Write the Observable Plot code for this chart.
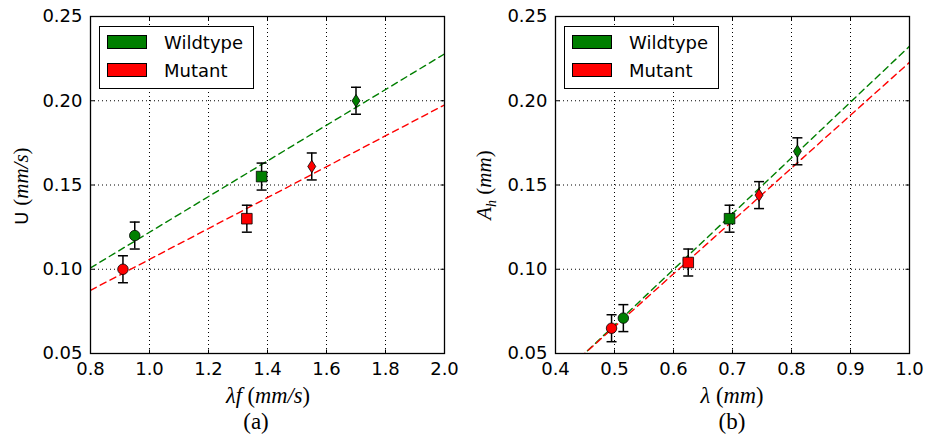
<!DOCTYPE html>
<html>
<head>
<meta charset="utf-8">
<script src="https://cdn.jsdelivr.net/npm/d3@7"></script>
<script src="https://cdn.jsdelivr.net/npm/@observablehq/plot@0.6"></script>
<style>
  body { margin: 0; background: white; }
  #wrap { position: relative; width: 925px; height: 439px; background: white; overflow: hidden; }
  .panel { position: absolute; top: 0; }
  .lab { position: absolute; transform: translate(-50%, -50%); white-space: nowrap; color: black; }
  .ylab { transform: translate(-50%, -50%) rotate(-90deg); }
  .serif { font-family: "Liberation Serif", "DejaVu Serif", serif; }
  .sans { font-family: "DejaVu Sans", sans-serif; }
  .legend { position: absolute; border: 1.5px solid black; background: white; box-sizing: border-box; font-family: "DejaVu Sans", sans-serif; font-size: 18px; }
  .item { position: absolute; left: 7px; height: 14px; display: flex; align-items: center; }
  .patch { width: 38px; height: 12px; border: 1px solid black; margin-right: 17px; }
</style>
</head>
<body>
<div id="wrap"></div>
<script>
// ---------- data ----------
const series = ["Wildtype", "Mutant"];
const seriesColors = ["#007f00", "#ff0000"];
const shapes = ["circle", "square", "diamond"];

// panel (a): U vs lambda*f
const aWildX = [0.95, 1.38, 1.70];
const aWildY = [0.120, 0.155, 0.200];
const aMutX  = [0.91, 1.33, 1.55];
const aMutY  = [0.100, 0.130, 0.161];
const aErr   = [0.008, 0.008, 0.008];
const aFitX     = [0.8, 2.0];
const aWildFitY = [0.1008, 0.2278];
const aMutFitY  = [0.0875, 0.1975];

// panel (b): A_h vs lambda
const bWildX = [0.515, 0.695, 0.810];
const bWildY = [0.071, 0.130, 0.170];
const bMutX  = [0.495, 0.625, 0.745];
const bMutY  = [0.065, 0.104, 0.144];
const bErr   = [0.008, 0.008, 0.008];
const bFitX     = [0.40, 1.0];
const bWildFitY = [0.0337, 0.2323];
const bMutFitY  = [0.0345, 0.2228];

const aXTicks = [0.8, 1.0, 1.2, 1.4, 1.6, 1.8, 2.0];
const bXTicks = [0.4, 0.5, 0.6, 0.7, 0.8, 0.9, 1.0];
const yTicks  = [0.05, 0.10, 0.15, 0.20, 0.25];

// ---------- custom symbols ----------
const symCircle  = { draw(c, size) { const r = Math.sqrt(size / Math.PI) * 1.05; c.moveTo(r, 0); c.arc(0, 0, r, 0, 2 * Math.PI); } };
const symSquare  = { draw(c, size) { const r = Math.sqrt(size / Math.PI) * 1.06; c.rect(-r, -r, 2 * r, 2 * r); } };
const symDiamond = { draw(c, size) { const r = Math.sqrt(size / Math.PI); const h = r * 1.25, w = r * 0.8; c.moveTo(0, -h); c.lineTo(w, 0); c.lineTo(0, h); c.lineTo(-w, 0); c.closePath(); } };
const symCap     = { draw(c, size) { const r = Math.sqrt(size / Math.PI); c.moveTo(-r, 0); c.lineTo(r, 0); } };
const tickUp    = { draw(c) { c.moveTo(0, 0); c.lineTo(0, -4); } };
const tickDown  = { draw(c) { c.moveTo(0, 0); c.lineTo(0, 4); } };
const tickRight = { draw(c) { c.moveTo(0, 0); c.lineTo(4, 0); } };
const tickLeft  = { draw(c) { c.moveTo(0, 0); c.lineTo(-4, 0); } };
const symbolOf = { circle: symCircle, square: symSquare, diamond: symDiamond };

function buildPoints(wx, wy, mx, my, err) {
  const pts = [];
  wx.forEach((x, i) => pts.push({ series: series[0], shape: shapes[i], x, y: wy[i], e: err[i] }));
  mx.forEach((x, i) => pts.push({ series: series[1], shape: shapes[i], x, y: my[i], e: err[i] }));
  return pts;
}
function buildFit(fx, wfy, mfy) {
  const rows = [];
  fx.forEach((x, i) => rows.push({ series: series[0], x, y: wfy[i] }));
  fx.forEach((x, i) => rows.push({ series: series[1], x, y: mfy[i] }));
  return rows;
}

function panel({ pts, fit, xDomain, xTicks, marginLeft, width }) {
  return Plot.plot({
    width, height: 439,
    marginLeft, marginRight: 16, marginTop: 16, marginBottom: 86,
    style: { fontFamily: "DejaVu Sans, sans-serif", fontSize: "18px", background: "white", color: "black", overflow: "visible" },
    x: { domain: xDomain, ticks: xTicks, tickFormat: ".1f", tickSize: 0, tickPadding: 9, label: null },
    y: { domain: [0.05, 0.25], ticks: yTicks, tickFormat: ".2f", tickSize: 0, tickPadding: 8, label: null },
    color: { domain: series, range: seriesColors },
    marks: [
      Plot.ruleX(xTicks, { stroke: "black", strokeWidth: 1, strokeDasharray: "1,3" }),
      Plot.ruleY(yTicks, { stroke: "black", strokeWidth: 1, strokeDasharray: "1,3" }),
      Plot.line(fit, { x: "x", y: "y", z: "series", stroke: "series", strokeWidth: 1.4, strokeDasharray: "6.5,4.5", clip: true }),
      Plot.ruleX(pts, { x: "x", y1: d => d.y - d.e, y2: d => d.y + d.e, stroke: "black", strokeWidth: 1.5 }),
      Plot.dot(pts, { x: "x", y: d => d.y - d.e, symbol: symCap, r: 5, fill: "none", stroke: "black", strokeWidth: 1.5 }),
      Plot.dot(pts, { x: "x", y: d => d.y + d.e, symbol: symCap, r: 5, fill: "none", stroke: "black", strokeWidth: 1.5 }),
      ...shapes.map(s => Plot.dot(pts, { filter: d => d.shape === s, x: "x", y: "y", symbol: symbolOf[s], r: 5, fill: "series", stroke: "black", strokeWidth: 0.8 })),
      Plot.dot(xTicks, { x: d => d, frameAnchor: "bottom", symbol: tickUp, fill: "none", stroke: "black", strokeWidth: 1 }),
      Plot.dot(xTicks, { x: d => d, frameAnchor: "top", symbol: tickDown, fill: "none", stroke: "black", strokeWidth: 1 }),
      Plot.dot(yTicks, { y: d => d, frameAnchor: "left", symbol: tickRight, fill: "none", stroke: "black", strokeWidth: 1 }),
      Plot.dot(yTicks, { y: d => d, frameAnchor: "right", symbol: tickLeft, fill: "none", stroke: "black", strokeWidth: 1 }),
      Plot.frame({ stroke: "black", strokeWidth: 1.3 })
    ]
  });
}

const wrap = document.getElementById("wrap");

const plotA = panel({
  pts: buildPoints(aWildX, aWildY, aMutX, aMutY, aErr),
  fit: buildFit(aFitX, aWildFitY, aMutFitY),
  xDomain: [0.8, 2.0], xTicks: aXTicks, marginLeft: 90, width: 460
});
plotA.classList.add("panel"); plotA.style.left = "0px";
wrap.appendChild(plotA);

const plotB = panel({
  pts: buildPoints(bWildX, bWildY, bMutX, bMutY, bErr),
  fit: buildFit(bFitX, bWildFitY, bMutFitY),
  xDomain: [0.4, 1.0], xTicks: bXTicks, marginLeft: 95, width: 465
});
plotB.classList.add("panel"); plotB.style.left = "460px";
wrap.appendChild(plotB);

// ---------- labels ----------
function addLabel(html, left, top, cls, size) {
  const d = document.createElement("div");
  d.className = "lab " + (cls || "");
  d.style.left = left + "px"; d.style.top = top + "px";
  d.style.fontSize = size + "px";
  d.innerHTML = html;
  wrap.appendChild(d);
}
addLabel('<span class="sans" style="font-size:18px">U </span><span class="serif">(<i>mm/s</i>)</span>', 21, 186, "ylab", 21);
addLabel('<span class="serif"><i>λf</i> (<i>mm/s</i>)</span>', 268, 396, "", 22.5);
addLabel('<span class="serif">(a)</span>', 256, 422, "", 23);
addLabel('<span class="serif"><i>A<sub style="font-size:14px">h</sub></i> (<i>mm</i>)</span>', 486, 185, "ylab", 21);
addLabel('<span class="serif"><i>λ</i> (<i>mm</i>)</span>', 732, 396, "", 22.5);
addLabel('<span class="serif">(b)</span>', 732, 422, "", 23);

// ---------- legends ----------
function addLegend(left) {
  const lg = document.createElement("div");
  lg.className = "legend";
  lg.style.left = left + "px"; lg.style.top = "26px";
  lg.style.width = "155px"; lg.style.height = "63px";
  series.forEach((s, i) => {
    const it = document.createElement("div");
    it.className = "item";
    it.style.top = (8 + i * 28) + "px";
    it.innerHTML = `<div class="patch" style="background:${seriesColors[i]}"></div><span>${s}</span>`;
    lg.appendChild(it);
  });
  wrap.appendChild(lg);
}
addLegend(99);
addLegend(564);
</script>
</body>
</html>
